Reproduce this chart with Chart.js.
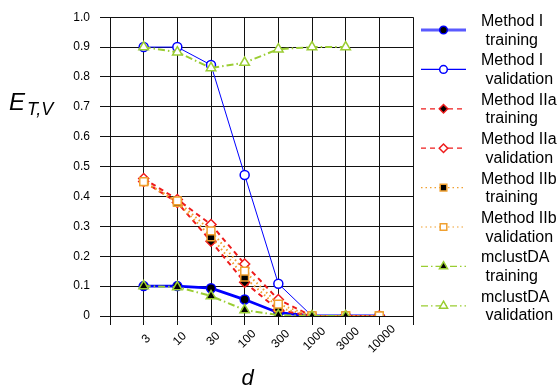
<!DOCTYPE html>
<html>
<head>
<meta charset="utf-8">
<script src="https://cdn.jsdelivr.net/npm/chart.js@4.4.1/dist/chart.umd.min.js"></script>
<style>
  html, body { margin: 0; padding: 0; background: #fff; }
</style>
</head>
<body>
<canvas id="errChart" width="560" height="387"></canvas>
<script>
// data
const categories = ['3', '10', '30', '100', '300', '1000', '3000', '10000'];
const yTickValues = [0, 0.1, 0.2, 0.3, 0.4, 0.5, 0.6, 0.7, 0.8, 0.9, 1.0];
const yTickLabels = ['0', '0.1', '0.2', '0.3', '0.4', '0.5', '0.6', '0.7', '0.8', '0.9', '1.0'];

const methodITrain = [0.10, 0.10, 0.093, 0.055, 0.011, 0, 0, 0];
const methodIVal = [0.90, 0.90, 0.84, 0.472, 0.108, 0, 0, 0];
const methodIIaTrain = [0.45, 0.38, 0.25, 0.113, 0.02, 0, 0, 0];
const methodIIaVal = [0.46, 0.39, 0.306, 0.174, 0.055, 0, 0, 0];
const methodIIbTrain = [0.45, 0.38, 0.265, 0.13, 0.028, 0, 0, 0];
const methodIIbVal = [0.45, 0.385, 0.285, 0.15, 0.04, 0, 0, 0];
const mclustTrain = [0.10, 0.097, 0.067, 0.02, 0.003, 0, 0];
const mclustVal = [0.90, 0.883, 0.83, 0.848, 0.893, 0.90, 0.90];

const seriesNames = ['Method I', 'Method I', 'Method IIa', 'Method IIa', 'Method IIb', 'Method IIb', 'mclustDA', 'mclustDA'];
const seriesPhases = ['training', 'validation', 'training', 'validation', 'training', 'validation', 'training', 'validation'];

const FONT = "'Liberation Sans', Arial, sans-serif";
const BLUE = '#0000ff';
const RED = '#ee1c1c';
const ORANGE = '#f0a030';
const GREEN = '#9acd32';
const GRID = '#111';

// empty slot on each side of the categories, like the original plot
const labels = [''].concat(categories, ['']);
function pad(arr) {
  const out = [null].concat(arr);
  while (out.length < labels.length) out.push(null);
  return out;
}

function series(i, values, color, width, dash, style, radius, fill, order) {
  return {
    label: seriesNames[i] + ' ' + seriesPhases[i],
    data: pad(values),
    borderColor: color,
    borderWidth: width,
    borderDash: dash,
    pointStyle: style,
    pointRadius: radius,
    pointBackgroundColor: fill,
    pointBorderColor: color,
    pointBorderWidth: 1.5,
    legendWidth: width > 2 ? 3 : 1.2,
    legendColor: width > 2 ? '#5a5aff' : color,
    tension: 0,
    fill: false,
    order: order
  };
}

const datasets = [
  series(0, methodITrain, BLUE, 2.8, [], 'circle', 4.5, '#000', 8),
  series(1, methodIVal, BLUE, 1, [], 'circle', 4.5, '#fff', 7),
  series(2, methodIIaTrain, RED, 2, [5, 4], 'rectRot', 5, '#000', 6),
  series(3, methodIIaVal, RED, 2, [5, 4], 'rectRot', 5, '#fff', 5),
  series(4, methodIIbTrain, ORANGE, 2, [1.5, 3], 'rect', 5.5, '#000', 4),
  series(5, methodIIbVal, ORANGE, 2, [1.5, 3], 'rect', 5.5, '#fff', 3),
  series(6, mclustTrain, GREEN, 2, [7, 3, 1.5, 3], 'triangle', 5.5, '#000', 2),
  series(7, mclustVal, GREEN, 2, [7, 3, 1.5, 3], 'triangle', 5.5, '#fff', 1)
];

function drawMarker(ctx, style, x, y, r, fill, stroke) {
  ctx.beginPath();
  if (style === 'circle') {
    ctx.arc(x, y, r, 0, Math.PI * 2);
  } else if (style === 'rectRot') {
    ctx.moveTo(x, y - r); ctx.lineTo(x + r, y); ctx.lineTo(x, y + r); ctx.lineTo(x - r, y);
  } else if (style === 'rect') {
    const s = r * Math.SQRT1_2;
    ctx.rect(x - s, y - s, 2 * s, 2 * s);
  } else if (style === 'triangle') {
    for (let k = 0; k < 3; k++) {
      const a = k * 2 * Math.PI / 3;
      const px = x + Math.sin(a) * r, py = y - Math.cos(a) * r;
      if (k === 0) ctx.moveTo(px, py); else ctx.lineTo(px, py);
    }
  }
  ctx.closePath();
  ctx.fillStyle = fill;
  ctx.fill();
  ctx.setLineDash([]);
  ctx.lineWidth = 1.5;
  ctx.strokeStyle = stroke;
  ctx.stroke();
}

// rotated x labels, axis titles and the two-line legend
const extras = {
  id: 'extras',
  afterDraw(chart) {
    const ctx = chart.ctx;
    const xs = chart.scales.x;
    const area = chart.chartArea;
    ctx.save();
    ctx.fillStyle = '#000';

    ctx.font = '12px ' + FONT;
    ctx.textAlign = 'center';
    ctx.textBaseline = 'middle';
    categories.forEach((c, i) => {
      const px = xs.getPixelForValue(i + 1);
      ctx.save();
      ctx.translate(px + 2.5, area.bottom + 23);
      ctx.rotate(-Math.PI / 4);
      ctx.fillText(c, 0, 0);
      ctx.restore();
    });

    ctx.textAlign = 'left';
    ctx.textBaseline = 'alphabetic';
    ctx.font = 'italic 24px ' + FONT;
    ctx.fillText('E', 9, 110);
    ctx.font = 'italic 18px ' + FONT;
    ctx.fillText('T,V', 27, 115);

    ctx.font = 'italic 22px ' + FONT;
    ctx.textAlign = 'center';
    ctx.fillText('d', (area.left + area.right) / 2 - 14, 385);

    ctx.textAlign = 'left';
    ctx.font = '16px ' + FONT;
    chart.data.datasets.forEach((ds, i) => {
      const y = 30 + i * 39.4;
      ctx.beginPath();
      ctx.setLineDash(ds.borderDash);
      ctx.lineWidth = ds.legendWidth;
      ctx.strokeStyle = ds.legendColor;
      ctx.moveTo(421, y);
      ctx.lineTo(466, y);
      ctx.stroke();
      drawMarker(ctx, ds.pointStyle, 443.5, y, ds.pointRadius * 0.85, ds.pointBackgroundColor, ds.pointBorderColor);
      ctx.fillStyle = '#000';
      ctx.fillText(seriesNames[i], 481, y - 4);
      ctx.fillText(seriesPhases[i], 485.5, y + 14.5);
    });
    ctx.restore();
  }
};

new Chart(document.getElementById('errChart').getContext('2d'), {
  type: 'line',
  data: { labels: labels, datasets: datasets },
  options: {
    responsive: false,
    animation: false,
    layout: { padding: { top: 13, right: 147, bottom: 0, left: 0 } },
    plugins: { legend: { display: false }, tooltip: { enabled: false } },
    scales: {
      x: {
        type: 'category',
        offset: false,
        grid: { color: GRID, lineWidth: 1, tickLength: 9 },
        border: { color: GRID },
        ticks: { display: false },
        afterFit(scale) { scale.height = 71; }
      },
      y: {
        min: 0,
        max: 1,
        afterBuildTicks(scale) { scale.ticks = yTickValues.map(v => ({ value: v })); },
        grid: { color: GRID, lineWidth: 1, tickLength: 10 },
        border: { color: GRID },
        ticks: {
          color: '#000',
          padding: 10,
          font: { size: 12, family: FONT },
          callback: (v, i) => yTickLabels[i]
        },
        afterFit(scale) { scale.width = 110; }
      }
    }
  },
  plugins: [extras]
});
</script>
</body>
</html>
